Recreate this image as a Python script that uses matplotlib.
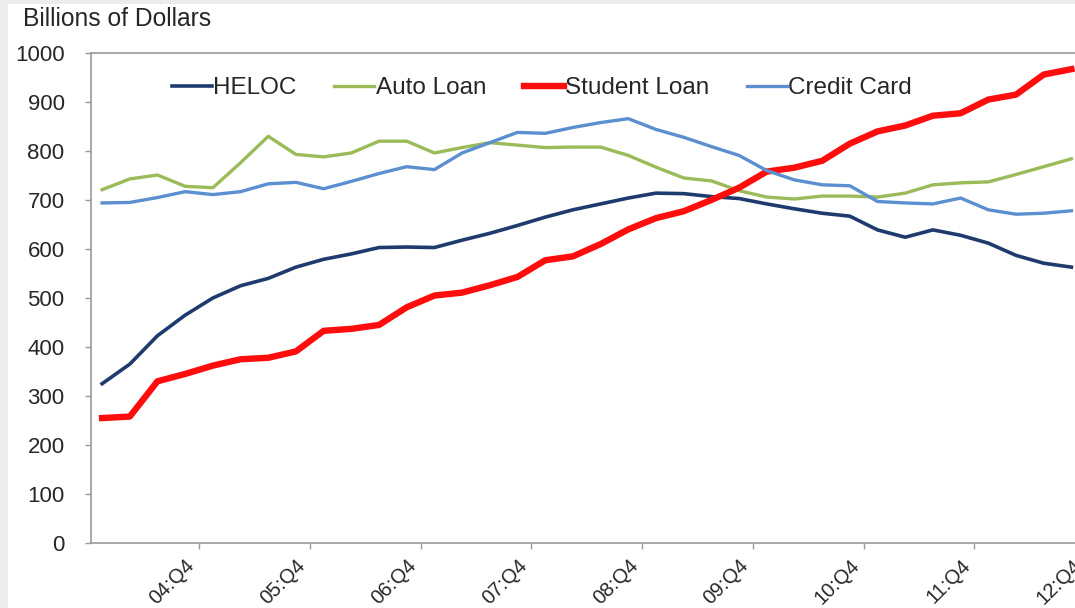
import matplotlib.pyplot as plt
import matplotlib.patches as mpatches
from matplotlib.transforms import ScaledTranslation

# quarters 04:Q1 .. 12:Q4
quarters = [f"{y:02d}:Q{q}" for y in range(4, 13) for q in range(1, 5)]

heloc = [325, 365, 423, 465, 500, 525, 540, 563, 579, 590, 603, 604,
         603, 618, 632, 648, 665, 680, 692, 704, 714, 713, 707, 703,
         692, 682, 673, 667, 639, 624, 639, 628, 612, 587, 571, 563]
auto_loan = [721, 743, 751, 728, 725, 776, 830, 793, 788, 796, 820, 820,
             796, 807, 817, 812, 807, 808, 808, 791, 767, 745, 739, 719,
             706, 702, 708, 708, 706, 714, 731, 735, 737, 752, 768, 784]
student_loan = [255, 258, 330, 345, 362, 375, 378, 391, 433, 437, 445, 481,
                505, 511, 526, 543, 577, 585, 610, 640, 663, 677, 700, 725,
                758, 766, 780, 815, 840, 852, 872, 877, 905, 915, 956, 967]
credit_card = [694, 695, 705, 717, 711, 717, 733, 736, 723, 738, 754, 768,
               762, 796, 817, 838, 836, 848, 858, 866, 844, 828, 809, 791,
               760, 741, 731, 729, 697, 694, 692, 704, 680, 671, 673, 678]

series = [
    ("HELOC", heloc, "#1f3b6e", 2.6),
    ("Auto Loan", auto_loan, "#9bbb59", 2.4),
    ("Student Loan", student_loan, "#ff0d0d", 4.6),
    ("Credit Card", credit_card, "#5b8fcf", 2.4),
]

plt.rcParams["font.family"] = ["Liberation Sans", "DejaVu Sans"]
txt = "#262626"

W, H = 1075, 608
fig = plt.figure(figsize=(W / 100, H / 100), dpi=100, facecolor="#ececec")
fig.patches.append(mpatches.Rectangle((8 / W, 0), 1, 1 - 4 / H,
                                      transform=fig.transFigure,
                                      facecolor="white", edgecolor="none",
                                      zorder=-5))

# axes runs past the right edge of the picture, like the cropped original
ax = fig.add_axes([91 / W, 65 / H, 997 / W, 490 / H])
ax.set_facecolor("white")

x = list(range(len(quarters)))
for name, vals, col, lw in series:
    ax.plot(x, vals, color=col, lw=lw, label=name, solid_joinstyle="round")

ax.set_xlim(-0.4, 35.6)
ax.set_ylim(0, 1000)
ax.set_yticks(range(0, 1001, 100))
ax.tick_params(axis="y", direction="out", length=4, width=1, color="#9a9a9a",
               pad=15, labelsize=16, labelcolor=txt)

major = list(range(3, 36, 4))
ax.set_xticks(major)
ax.set_xticklabels([quarters[i] for i in major])
ax.set_xticks([m + 0.5 for m in major[:-1]], minor=True)
ax.tick_params(axis="x", which="major", length=0, pad=9, labelsize=14.5,
               labelcolor=txt)
ax.tick_params(axis="x", which="minor", direction="out", length=4, width=1,
               color="#9a9a9a")
shift = ScaledTranslation(0.0, 0, fig.dpi_scale_trans)
for lab in ax.get_xticklabels():
    lab.set_rotation(45)
    lab.set_rotation_mode("anchor")
    lab.set_ha("right")
    lab.set_va("top")
    lab.set_transform(lab.get_transform() + shift)

for sp in ax.spines.values():
    sp.set_color("#9a9a9a")
    sp.set_linewidth(1.2)

fig.text(23 / W, 1 - 19 / H, "Billions of Dollars", fontsize=17.7, color=txt,
         ha="left", va="center")

fig.legend(loc="center left", bbox_to_anchor=(172 / W, 1 - 88 / H), ncol=4,
           frameon=False, fontsize=17.5, handlelength=1.65, handletextpad=0.05,
           columnspacing=1.55, borderpad=0, borderaxespad=0, labelcolor=txt)

fig.savefig("out.png", dpi=100, facecolor=fig.get_facecolor())
